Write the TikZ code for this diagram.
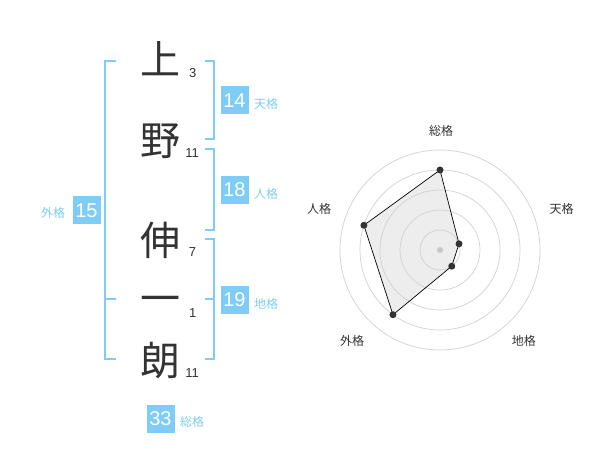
\documentclass[tikz,border=0pt]{standalone}
\usepackage{fontspec}
\setmainfont{Liberation Sans}
\newfontfamily\cjk{Noto Sans CJK JP}
\definecolor{sky}{HTML}{7FCCF7}
\definecolor{ink}{HTML}{333333}
\begin{document}
\begin{tikzpicture}[x=1pt,y=-1pt,
 kanji/.style={font=\cjk\fontsize{40}{40}\selectfont, text=ink, inner sep=0pt, anchor=base},
 strokes/.style={font=\fontsize{13}{13}\selectfont, text=ink, inner sep=0pt},
 numbox/.style={fill=sky, text=white, minimum width=28pt, minimum height=28pt, inner sep=0pt, font=\fontsize{20}{20}\selectfont},
 kaku/.style={text=sky, font=\cjk\fontsize{12}{12}\selectfont, inner sep=0pt},
 brk/.style={draw=sky, line width=2pt},
 ring/.style={draw=black!18, line width=0.7pt},
 axlabel/.style={text=ink, font=\cjk\fontsize{12}{12}\selectfont, inner sep=0pt},
 dot/.style={circle, fill=ink, inner sep=0pt, minimum size=7pt},
]
\useasboundingbox (0,0) rectangle (600,470);
% kanji
\node[kanji] (k1) at (160,74.5) {上};
\node[kanji] (k2) at (160,156) {野};
\node[kanji] (k3) at (160,255.5) {伸};
\node[kanji] (k4) at (160,313.5) {一};
\node[kanji] (k5) at (160,375.5) {朗};
% stroke counts
\node[strokes] (s1) at (192.7,73.5) {3};
\node[strokes] (s2) at (192,153) {11};
\node[strokes] (s3) at (192.5,252.5) {7};
\node[strokes] (s4) at (192.7,313) {1};
\node[strokes] (s5) at (192,372.7) {11};
% brackets
\draw[brk] (116,61) -- (105,61) -- (105,359) -- (116,359);
\draw[brk] (105,299.5) -- (116,299.5);
\draw[brk] (205,61) -- (214,61) -- (214,139.5) -- (205,139.5);
\draw[brk] (205,149.5) -- (214,149.5) -- (214,230) -- (205,230);
\draw[brk] (205,239.5) -- (214,239.5) -- (214,359) -- (205,359);
\draw[brk] (205,299.5) -- (214,299.5);
% boxes and labels
\node[numbox] (b15) at (86.5,210.5) {15};
\node[kaku] (l15) at (53,213) {外格};
\node[numbox] (b14) at (234.5,100.5) {14};
\node[kaku] (l14) at (266,103.5) {天格};
\node[numbox] (b18) at (234.5,190) {18};
\node[kaku] (l18) at (266,193.5) {人格};
\node[numbox] (b19) at (234.5,300) {19};
\node[kaku] (l19) at (266,303.5) {地格};
\node[numbox] (b33) at (160.5,419) {33};
\node[kaku] (l33) at (192,422) {総格};
% radar
\begin{scope}[shift={(440,250)}, yscale=-1]
 \coordinate (pS) at (90:80);
 \coordinate (pT) at (18:20);
 \coordinate (pC) at (-54:20);
 \coordinate (pG) at (-126:80);
 \coordinate (pJ) at (162:80);
 \fill[black!7] (pS) -- (pT) -- (pC) -- (pG) -- (pJ) -- cycle;
 \foreach \r in {20,40,60,80,100} \draw[ring] (0,0) circle (\r);
 \draw[black, line width=0.7pt] (pS) -- (pT) -- (pC) -- (pG) -- (pJ) -- cycle;
 \node[circle, fill=black!22, inner sep=0pt, minimum size=6pt] (ctr) at (0,0) {};
 \foreach \p in {pS,pT,pC,pG,pJ} \node[dot] at (\p) {};
\end{scope}
\node[axlabel] (aS) at (441,131) {総格};
\node[axlabel] (aT) at (561.7,209) {天格};
\node[axlabel] (aC) at (523.8,341) {地格};
\node[axlabel] (aG) at (352,341) {外格};
\node[axlabel] (aJ) at (319,209) {人格};
\end{tikzpicture}
\end{document}
